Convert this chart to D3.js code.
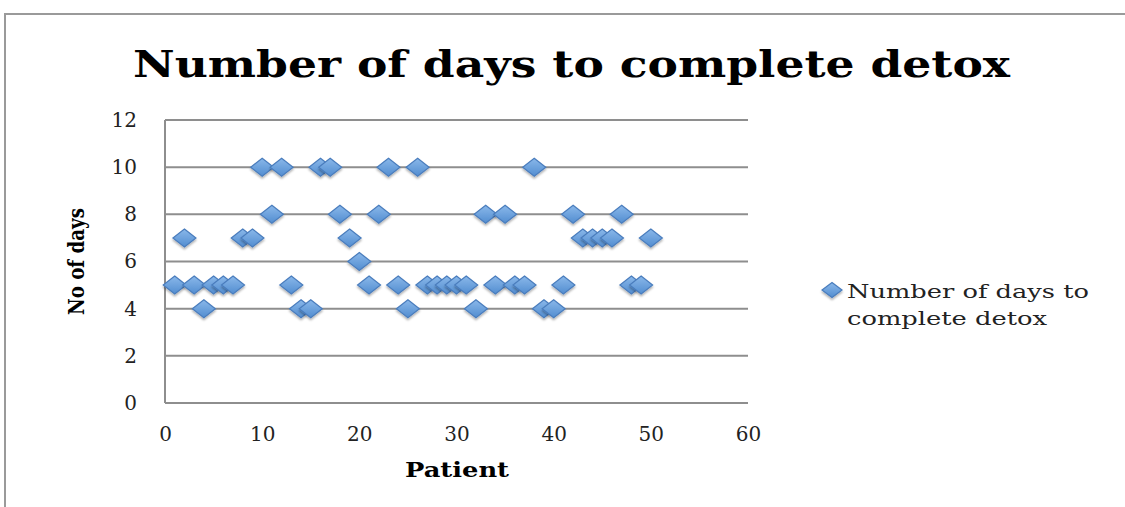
<!DOCTYPE html>
<html>
<head>
<meta charset="utf-8">
<script src="https://cdnjs.cloudflare.com/ajax/libs/d3/7.8.5/d3.min.js"></script>
<style>
  body { margin: 0; background: #fff; }
  svg { display: block; }
</style>
</head>
<body>
<script>
// Data: patient number and days to complete detox
const patients = [1, 2, 3, 4, 5, 6, 7, 8, 9, 10,
                  11, 12, 13, 14, 15, 16, 17, 18, 19, 20,
                  21, 22, 23, 24, 25, 26, 27, 28, 29, 30,
                  31, 32, 33, 34, 35, 36, 37, 38, 39, 40,
                  41, 42, 43, 44, 45, 46, 47, 48, 49, 50];
const days = [5, 7, 5, 4, 5, 5, 5, 7, 7, 10,
              8, 10, 5, 4, 4, 10, 10, 8, 7, 6,
              5, 8, 10, 5, 4, 10, 5, 5, 5, 5,
              5, 4, 8, 5, 8, 5, 5, 10, 4, 4,
              5, 8, 7, 7, 7, 7, 8, 5, 5, 7];
const xTicks = [0, 10, 20, 30, 40, 50, 60];
const yTicks = [0, 2, 4, 6, 8, 10, 12];
const seriesName = "Number of days to complete detox";

const W = 1125, H = 507;
const margin = { top: 120, right: 377, bottom: 104, left: 165 };
const width = W - margin.left - margin.right;
const height = H - margin.top - margin.bottom;
const serif = "'DejaVu Serif', 'Liberation Serif', serif";

const svg = d3.select("body").append("svg")
  .attr("width", W)
  .attr("height", H);

// gradient + shadow for the diamond markers
const defs = svg.append("defs");
const grad = defs.append("linearGradient")
  .attr("id", "mk").attr("x1", 0).attr("y1", 0).attr("x2", 0).attr("y2", 1);
grad.append("stop").attr("offset", "0%").attr("stop-color", "#8ab8ea");
grad.append("stop").attr("offset", "100%").attr("stop-color", "#528dd0");
const shadow = defs.append("filter").attr("id", "sh")
  .attr("x", "-30%").attr("y", "-30%").attr("width", "160%").attr("height", "170%");
shadow.append("feDropShadow")
  .attr("dx", 0).attr("dy", 2).attr("stdDeviation", 1.3)
  .attr("flood-color", "#000").attr("flood-opacity", 0.3);

// outer chart border (only left and top visible in frame)
svg.append("path")
  .attr("d", `M5,${H + 5} V14 H${W + 5}`)
  .attr("fill", "none")
  .attr("stroke", "#9a9a9a")
  .attr("stroke-width", 2);

// title
svg.append("text")
  .attr("x", 133).attr("y", 77)
  .attr("textLength", 877)
  .attr("lengthAdjust", "spacingAndGlyphs")
  .style("font-family", serif)
  .style("font-weight", "bold")
  .style("font-size", "37px")
  .text(seriesName);

const g = svg.append("g")
  .attr("transform", `translate(${margin.left},${margin.top})`);

const x = d3.scaleLinear().domain([0, 60]).range([0, width]);
const y = d3.scaleLinear().domain([0, 12]).range([height, 0]);

// horizontal gridlines
g.append("g")
  .selectAll("line")
  .data(yTicks)
  .join("line")
  .attr("x1", 0).attr("x2", width)
  .attr("y1", d => y(d)).attr("y2", d => y(d))
  .attr("stroke", "#8e8e8e")
  .attr("stroke-width", 2);

// vertical axis line
g.append("line")
  .attr("x1", 0).attr("x2", 0)
  .attr("y1", 0).attr("y2", height)
  .attr("stroke", "#8e8e8e")
  .attr("stroke-width", 2);

// axes (labels only, Excel-style)
const yAxis = g.append("g")
  .call(d3.axisLeft(y).tickValues(yTicks).tickSize(0).tickPadding(28));
const xAxis = g.append("g")
  .attr("transform", `translate(0,${height})`)
  .call(d3.axisBottom(x).tickValues(xTicks).tickSize(0).tickPadding(24));

[yAxis, xAxis].forEach(a => {
  a.select(".domain").remove();
  a.selectAll("text")
    .style("font-family", serif)
    .style("font-size", "20px")
    .attr("fill", "#222");
});

// axis titles
svg.append("text")
  .attr("x", 405).attr("y", 477)
  .attr("textLength", 104)
  .attr("lengthAdjust", "spacingAndGlyphs")
  .style("font-family", serif)
  .style("font-weight", "bold")
  .style("font-size", "21px")
  .text("Patient");

svg.append("text")
  .attr("transform", "translate(84,315) rotate(-90)")
  .attr("textLength", 107)
  .attr("lengthAdjust", "spacingAndGlyphs")
  .style("font-family", serif)
  .style("font-weight", "bold")
  .style("font-size", "23px")
  .text("No of days");

// diamond marker path
const diamond = (hw, hh) => `M0,${-hh} L${hw},0 L0,${hh} L${-hw},0 Z`;

const points = patients.map((p, i) => ({ p, d: days[i] }));

g.append("g")
  .selectAll("path")
  .data(points)
  .join("path")
  .attr("transform", d => `translate(${x(d.p)},${y(d.d)})`)
  .attr("d", diamond(11.5, 9))
  .attr("fill", "url(#mk)")
  .attr("stroke", "#4a7dbd")
  .attr("stroke-width", 1.2)
  .attr("filter", "url(#sh)");

// legend
const legend = svg.append("g").attr("transform", "translate(832,290)");
legend.append("path")
  .attr("d", diamond(10, 7.5))
  .attr("fill", "url(#mk)")
  .attr("stroke", "#4a7dbd")
  .attr("stroke-width", 1.2)
  .attr("filter", "url(#sh)");
const legendLines = ["Number of days to", "complete detox"];
legend.selectAll("text")
  .data(legendLines)
  .join("text")
  .attr("x", 15)
  .attr("y", (d, i) => 8 + i * 27)
  .attr("textLength", (d, i) => i === 0 ? 242 : 200)
  .attr("lengthAdjust", "spacingAndGlyphs")
  .style("font-family", serif)
  .style("font-size", "19px")
  .attr("fill", "#222")
  .text(d => d);
</script>
</body>
</html>
